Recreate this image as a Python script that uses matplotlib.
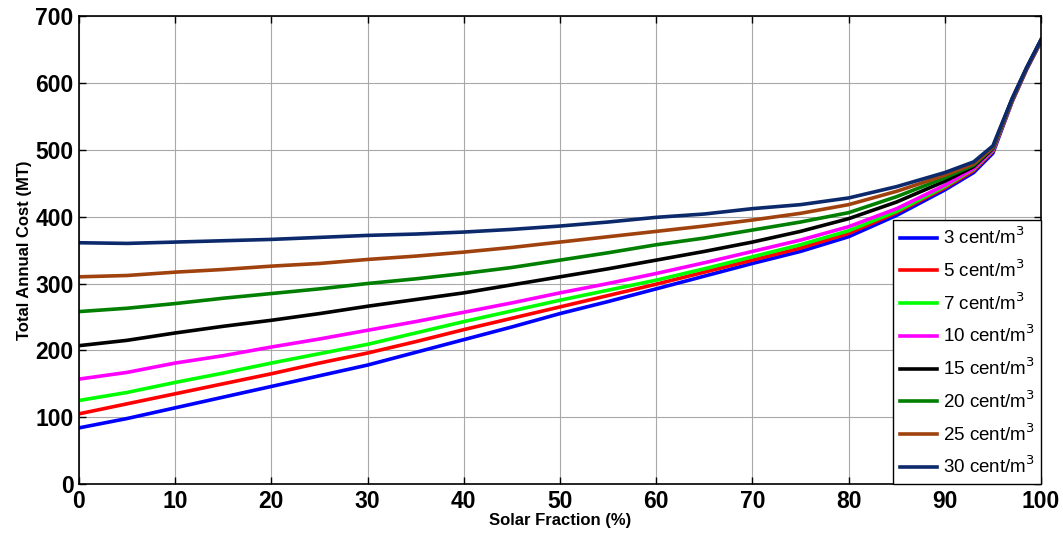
import matplotlib
matplotlib.use('Agg')
import matplotlib.pyplot as plt
import numpy as np

plt.rcParams['font.family'] = ['Liberation Sans', 'DejaVu Sans']

# Solar fraction (%) sample points
solar_fraction = [0, 5, 10, 15, 20, 25, 30, 35, 40, 45, 50, 55, 60, 65, 70, 75, 80,
                  85, 90, 93, 95, 97, 98.5, 100]

cost_3 = [84, 98, 114, 130, 146, 162, 178, 197, 216, 235, 255, 273, 292, 311, 330, 348, 370,
          402, 440, 466, 495, 572, 620, 662]
cost_5 = [105, 120, 135, 150, 165, 181, 196, 213, 231, 248, 265, 282, 299, 317, 335, 353, 375,
          406, 443, 469, 498, 573, 621, 663]
cost_7 = [125, 137, 152, 166, 181, 195, 209, 226, 243, 259, 275, 290, 305, 322, 340, 358, 379,
          408, 445, 471, 499, 574, 621, 663]
cost_10 = [157, 167, 181, 192, 205, 217, 230, 243, 257, 271, 286, 300, 315, 331, 348, 365, 385,
           412, 447, 472, 500, 574, 621, 663]
cost_15 = [207, 215, 226, 236, 245, 255, 266, 276, 286, 298, 310, 322, 335, 348, 362, 378, 397,
           422, 453, 475, 502, 575, 622, 664]
cost_20 = [258, 263, 270, 278, 285, 292, 300, 307, 315, 324, 335, 346, 358, 368, 380, 392, 406,
           430, 458, 477, 503, 575, 622, 664]
cost_25 = [310, 312, 317, 321, 326, 330, 336, 341, 347, 354, 362, 370, 378, 386, 395, 405, 418,
           438, 462, 479, 504, 576, 622, 664]
cost_30 = [361, 360, 362, 364, 366, 369, 372, 374, 377, 381, 386, 392, 399, 404, 412, 418, 428,
           445, 466, 482, 506, 577, 623, 665]

labels = ['3 cent/m$^3$', '5 cent/m$^3$', '7 cent/m$^3$', '10 cent/m$^3$',
          '15 cent/m$^3$', '20 cent/m$^3$', '25 cent/m$^3$', '30 cent/m$^3$']
series = [cost_3, cost_5, cost_7, cost_10, cost_15, cost_20, cost_25, cost_30]
colors = ['#0000ff', '#ff0000', '#00ff00', '#ff00ff', '#000000', '#007f00', '#a0420e', '#0c2a6b']

fig = plt.figure(figsize=(10.63, 5.39), dpi=100)
ax = fig.add_axes([0.0743, 0.102, 0.905, 0.868])

for vals, lab, col in zip(series, labels, colors):
    ax.plot(solar_fraction, vals, color=col, linewidth=2.6, label=lab)

ax.set_xlim(0, 100)
ax.set_ylim(0, 700)
ax.set_xticks(np.arange(0, 101, 10))
ax.set_yticks(np.arange(0, 701, 100))
ax.grid(True, color='#a8a8a8', linewidth=0.8)
ax.tick_params(direction='in', top=True, right=True, length=5, width=1,
               labelsize=16.5, pad=4)
for lbl in ax.get_xticklabels() + ax.get_yticklabels():
    lbl.set_fontweight('bold')
for sp in ax.spines.values():
    sp.set_linewidth(1.2)

ax.set_xlabel('Solar Fraction (%)', fontsize=12, fontweight='bold', labelpad=0)
ax.set_ylabel('Total Annual Cost (MT)', fontsize=12, fontweight='bold', labelpad=2)

leg = ax.legend(loc='lower right', borderaxespad=0, fancybox=False, framealpha=1,
                edgecolor='black', fontsize=13.5, handlelength=2.0, labelspacing=0.6,
                handletextpad=0.3, borderpad=0.35)
leg.get_frame().set_linewidth(1.0)

fig.savefig('out.png', dpi=100)
